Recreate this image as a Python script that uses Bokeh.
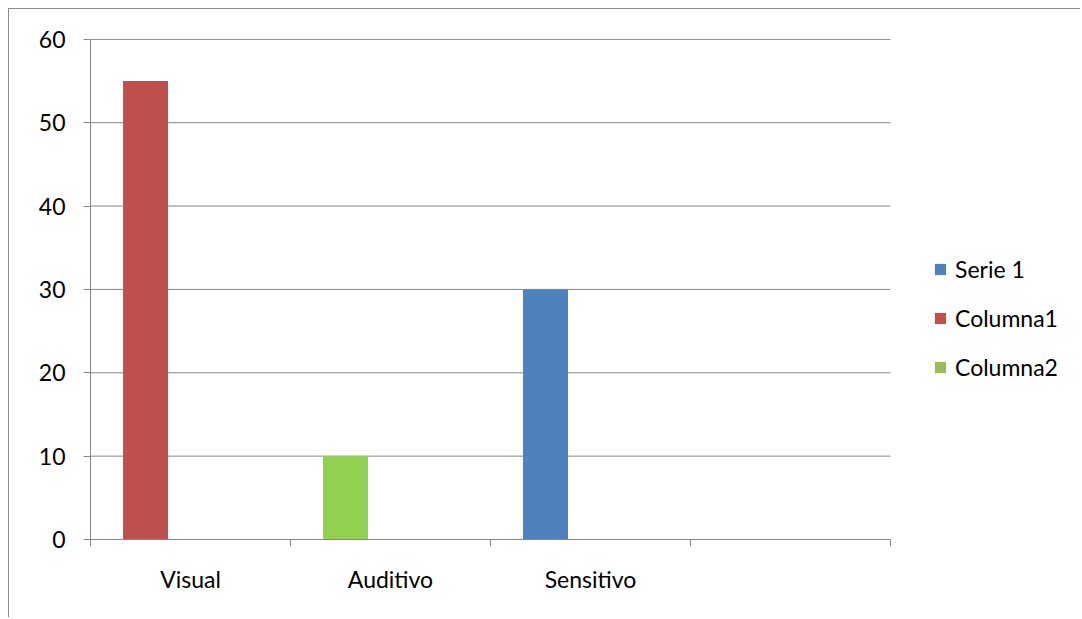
from bokeh.plotting import figure
from bokeh.models import (ColumnDataSource, Range1d, FixedTicker, Legend, LegendItem)
from bokeh.embed import file_html
from bokeh.resources import INLINE

# ---- data ----
categories = ["Visual", "Auditivo", "Sensitivo", ""]
serie1 = [0, 0, 30, 0]
columna1 = [55, 0, 0, 0]
columna2 = [0, 10, 0, 0]
series_names = ["Serie 1", "Columna1", "Columna2"]
series_colors = ["#4F81BD", "#C0504D", "#9BBB59"]
point_override = {"Columna2": {1: "#92D050"}}  # bar drawn with a custom fill
y_ticks = [0, 10, 20, 30, 40, 50, 60]

FONT = "Lato"
FS = "23px"
GRAY = "#868686"

W, H = 1072, 609
LEFT = 81
CAT_PX = 200  # pixels per category
n = len(categories)
x_end = n * (W - LEFT) / (n * CAT_PX)

p = figure(width=W, height=H, output_backend="svg", toolbar_location=None,
           x_range=Range1d(0, x_end), y_range=Range1d(0, 60.1),
           min_border_left=LEFT, min_border_right=0, min_border_top=29,
           min_border_bottom=79)
p.outline_line_color = None
p.background_fill_color = "white"
p.border_fill_color = "white"
p.styles = {"margin-left": "8px", "margin-top": "8px",
            "border-left": "1px solid #8c8c8c", "border-top": "1px solid #8c8c8c"}

# horizontal grid lines limited to the category area
p.segment(x0=[0] * len(y_ticks), x1=[n] * len(y_ticks), y0=y_ticks, y1=y_ticks,
          line_color=GRAY, line_width=1)

centers = [i + 0.5 for i in range(n)]
bar_w = 0.225
xs = [c - bar_w for c in centers]

items = []
for name, vals, col in zip(series_names, [serie1, columna1, columna2], series_colors):
    colors = [point_override.get(name, {}).get(i, col) for i in range(len(vals))]
    src = ColumnDataSource(dict(x=xs, top=vals, color=colors))
    r = p.vbar(x="x", top="top", width=bar_w, bottom=0, fill_color="color",
               line_color=None, source=src)
    items.append(LegendItem(label=name, renderers=[r], index=0))

legend = Legend(items=items, location=(843, 158), orientation="vertical",
                padding=0, margin=0, border_line_color=None,
                background_fill_alpha=0, glyph_width=14, glyph_height=14,
                label_height=20, spacing=21, label_standoff=8,
                label_text_font=FONT, label_text_font_size=FS,
                label_text_color="black")
p.add_layout(legend, "center")

# x axis
xax = p.xaxis[0]
xax.bounds = (0, n)
xax.ticker = FixedTicker(ticks=centers, minor_ticks=list(range(n + 1)))
xax.major_label_overrides = {c: lab for c, lab in zip(centers, categories)}
xax.major_tick_out = 0
xax.major_tick_in = 0
xax.minor_tick_out = 7
xax.minor_tick_in = 0
xax.minor_tick_line_color = GRAY
xax.axis_line_color = GRAY
xax.major_label_standoff = 18
xax.major_label_text_font = FONT
xax.major_label_text_font_size = FS
xax.major_label_text_color = "black"

# y axis
yax = p.yaxis[0]
yax.bounds = (0, 60)
yax.ticker = FixedTicker(ticks=y_ticks)
yax.major_tick_out = 7
yax.major_tick_in = 0
yax.minor_tick_out = 0
yax.minor_tick_in = 0
yax.major_tick_line_color = GRAY
yax.axis_line_color = GRAY
yax.major_label_standoff = 18
yax.major_label_text_font = FONT
yax.major_label_text_font_size = FS
yax.major_label_text_color = "black"

p.xgrid.visible = False
p.ygrid.visible = False

open("out.html", "w").write(file_html(p, INLINE))
